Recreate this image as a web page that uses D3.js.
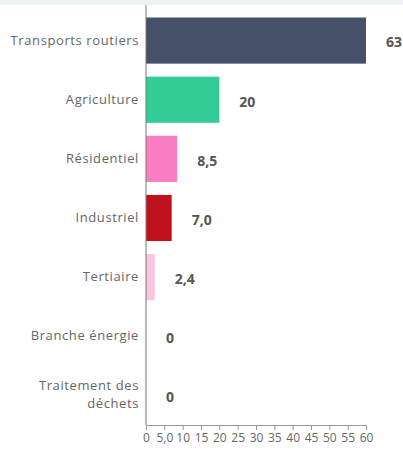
<!DOCTYPE html>
<html>
<head>
<meta charset="utf-8">
<script src="https://cdn.jsdelivr.net/npm/d3@7"></script>
<style>
  body { margin: 0; background: #fff; }
  svg { display: block; font-family: "Open Sans", sans-serif; }
</style>
</head>
<body>
<svg id="chart" width="403" height="451"></svg>
<script>
// données
const secteurs = ["Transports routiers", "Agriculture", "Résidentiel", "Industriel", "Tertiaire", "Branche énergie", "Traitement des déchets"];
const valeurs  = [63, 20, 8.5, 7.0, 2.4, 0, 0];
const etiquettes = ["63", "20", "8,5", "7,0", "2,4", "0", "0"];
const couleurs = ["#475069", "#33cc96", "#fb7dc3", "#c0121c", "#f8c5dd", "#ccc", "#ccc"];
const ticks = [0, 5, 10, 15, 20, 25, 30, 35, 40, 45, 50, 55, 60];

const svg = d3.select("#chart");
const W = 403, H = 451;
const margin = { left: 146, right: 37, top: 11, bottom: 26 };

// bandeau clair en haut
svg.append("rect").attr("x", 0).attr("y", 0).attr("width", W).attr("height", 5).attr("fill", "#eef2f6");

const x = d3.scaleLinear().domain([0, 60]).range([margin.left, W - margin.right]).clamp(true);
const y = d3.scaleBand().domain(secteurs).range([margin.top, H - margin.bottom]).paddingInner(0.22).paddingOuter(0.11);

// barres
svg.append("g").selectAll("rect")
  .data(secteurs)
  .join("rect")
    .attr("x", x(0))
    .attr("y", d => y(d))
    .attr("width", (d, i) => x(valeurs[i]) - x(0))
    .attr("height", y.bandwidth())
    .attr("fill", (d, i) => couleurs[i]);

// valeurs
svg.append("g").selectAll("text")
  .data(secteurs)
  .join("text")
    .attr("x", (d, i) => x(valeurs[i]) + 20)
    .attr("y", d => y(d) + y.bandwidth() / 2 + 2)
    .attr("dy", "0.35em")
    .attr("font-size", 14)
    .attr("font-weight", "bold")
    .attr("fill", "#555")
    .text((d, i) => etiquettes[i]);

// axe vertical + libellés
const yAxis = svg.append("g")
  .attr("transform", `translate(${x(0)},0)`)
  .call(d3.axisLeft(y).tickSize(0).tickPadding(7));
yAxis.select(".domain").attr("stroke", "#777").attr("d", `M0,5V${H - margin.bottom}`);
yAxis.selectAll("text").attr("font-size", 13).attr("letter-spacing", 0.6).attr("fill", "#666").attr("font-family", "Open Sans")
  .each(function(d) {
    if (d === "Traitement des déchets") {
      const t = d3.select(this).text(null);
      t.append("tspan").attr("x", -7).attr("dy", "-0.45em").text("Traitement des");
      t.append("tspan").attr("x", -7).attr("dy", "1.4em").text("déchets");
    }
  });

// axe horizontal
const xAxis = svg.append("g")
  .attr("transform", `translate(0,${H - margin.bottom})`)
  .call(d3.axisBottom(x).tickValues(ticks).tickSize(5).tickPadding(3)
    .tickFormat(d => d === 5 ? "5,0" : d));
xAxis.select(".domain").attr("stroke", "#999");
xAxis.selectAll("line").attr("stroke", "#999");
xAxis.selectAll("text").attr("font-size", 12).attr("fill", "#666").attr("font-family", "Open Sans");
</script>
</body>
</html>
